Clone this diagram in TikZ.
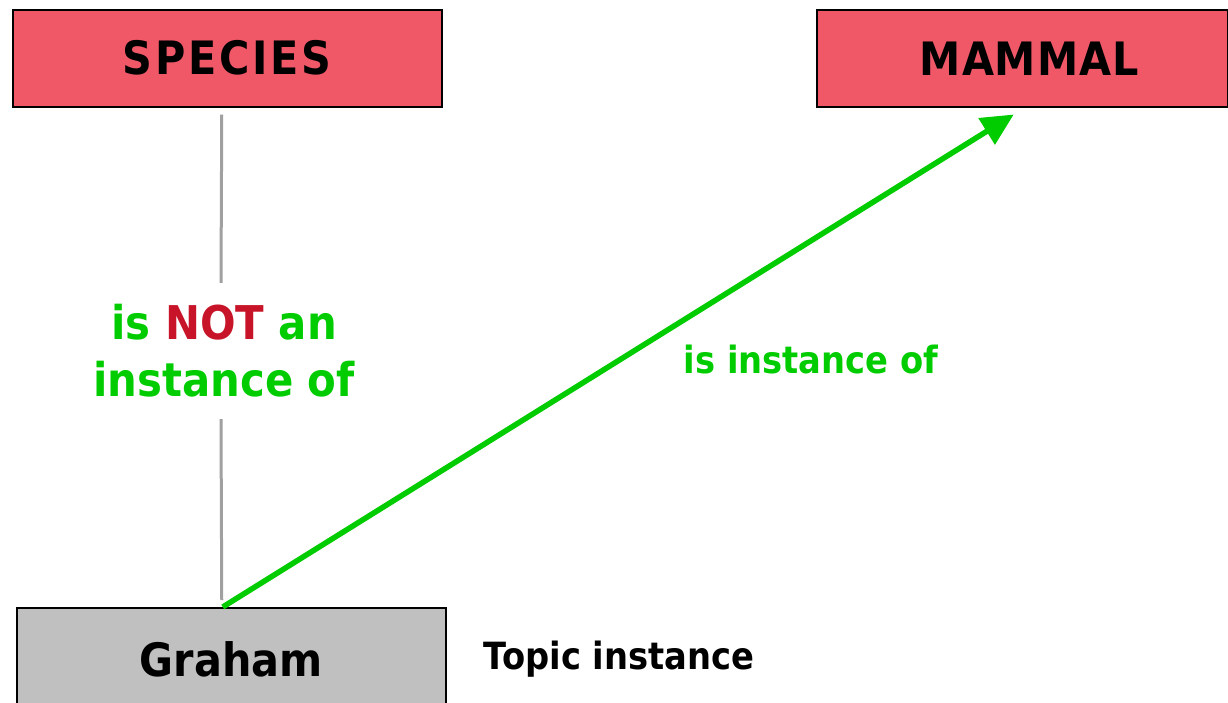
\documentclass[tikz,border=0pt]{standalone}
\usepackage{fontspec}
\setmainfont{DejaVu Sans}[BoldFeatures={FakeStretch=0.9}]
\usetikzlibrary{arrows.meta}
\definecolor{boxred}{RGB}{240,88,104}
\definecolor{boxgray}{RGB}{192,192,192}
\definecolor{relgreen}{RGB}{0,204,0}
\definecolor{notred}{RGB}{200,20,40}
\definecolor{linegray}{RGB}{160,160,160}
\begin{document}
\begin{tikzpicture}[x=1pt,y=-1pt,
  classbox/.style={draw=black,line width=1.5pt,fill=boxred,rectangle,inner sep=0pt,
    minimum width=429pt,minimum height=97pt,font=\fontsize{46}{54}\selectfont\bfseries},
  topicbox/.style={draw=black,line width=1.5pt,fill=boxgray,rectangle,inner sep=0pt,
    minimum width=429pt,minimum height=104pt,font=\fontsize{46}{54}\selectfont\bfseries},
  grayline/.style={draw=linegray,line width=3pt},
  greenarrow/.style={draw=relgreen,line width=5.5pt,-{Triangle[length=32pt,width=30pt]}},
  biglabel/.style={text=relgreen,font=\fontsize{46.5}{57}\selectfont\bfseries,align=center,
    minimum height=136pt,inner sep=0pt},
  smalllabel/.style={font=\fontsize{37.5}{45}\selectfont\bfseries,inner sep=0pt}]
\useasboundingbox[fill=white] (0,0) rectangle (1228,702);

\node[classbox,anchor=north west] (species) at (12,9) {\addfontfeature{LetterSpace=6}SPECIES};
\node[classbox,anchor=north west,minimum width=411pt] (mammal) at (816,9) {\hspace*{14pt}\addfontfeature{LetterSpace=2}MAMMAL};
\node[topicbox,anchor=north west] (graham) at (16,607) {Graham};

\node[biglabel] (notlabel) at (224,351) {is \textcolor{notred}{NOT} an\\instance of};
\node[smalllabel,text=relgreen] (islabel) at (811,360) {is instance of};
\node[smalllabel] (topiclabel) at (619,659) {Topic instance};

% broken gray link around the negative statement
\draw[grayline] ([yshift=-7pt,xshift=-5.5pt]species.south) -- ([xshift=-3pt]notlabel.north);
\draw[grayline] ([xshift=-3pt]notlabel.south) -- ([yshift=7pt,xshift=-9.5pt]graham.north);

% instance-of relation
\draw[greenarrow] ([xshift=-8.5pt]graham.north) -- ([xshift=-8.5pt,yshift=-7pt]mammal.south);
\end{tikzpicture}
\end{document}
